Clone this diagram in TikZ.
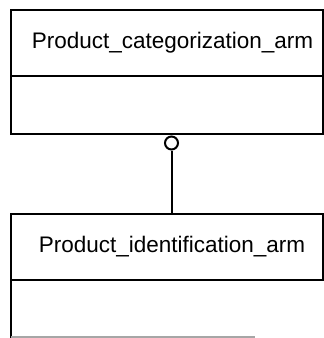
\documentclass[tikz,border=0pt]{standalone}
\usepackage{fontspec}
\setmainfont{Liberation Sans}
\usepackage{xcolor}
\usetikzlibrary{positioning}

\begin{document}
\begin{tikzpicture}[x=1pt, y=-1pt]
    \tikzstyle{classhead} = [rectangle, draw=black, line width=2pt, minimum width=312pt, minimum height=66pt, inner sep=0pt, outer sep=0pt];
    \tikzstyle{classbody} = [rectangle, draw=black, line width=2pt, minimum width=312pt, minimum height=58pt, inner sep=0pt, outer sep=0pt];
    \tikzstyle{classname} = [inner sep=0pt, font=\fontsize{22.5}{26}\selectfont];
    \tikzstyle{ring} = [circle, draw=black, line width=2pt, fill=white, minimum size=13pt, inner sep=0pt];
    \useasboundingbox (0,0) rectangle (324,338);
    \node [classhead] (cathead) at (167,43) {};
    \node [classbody, below = 0pt of cathead] (catbody) {};
    \node [ring, below = 1.5pt of catbody, xshift=4.5pt] (assoc) {};
    \node [classhead, below = 80pt of catbody] (idhead) {};
    \node [classname, xshift=5.5pt] (catname) at (cathead) {Product\_categorization\_arm};
    \node [classname, xshift=5pt] (idname) at (idhead) {Product\_identification\_arm};
    \coordinate [below = 59pt of idhead.south west] (idleft);
    \coordinate [below = 57pt of idhead.south west] (idbase);
    \draw [line width=2pt] (idhead.south west) -- (idleft);
    \draw [line width=1.2pt, black!35] (idbase) -- ++(244,0);
    \draw [line width=2pt] (assoc) -- (assoc |- idhead.north);
\end{tikzpicture}
\end{document}
